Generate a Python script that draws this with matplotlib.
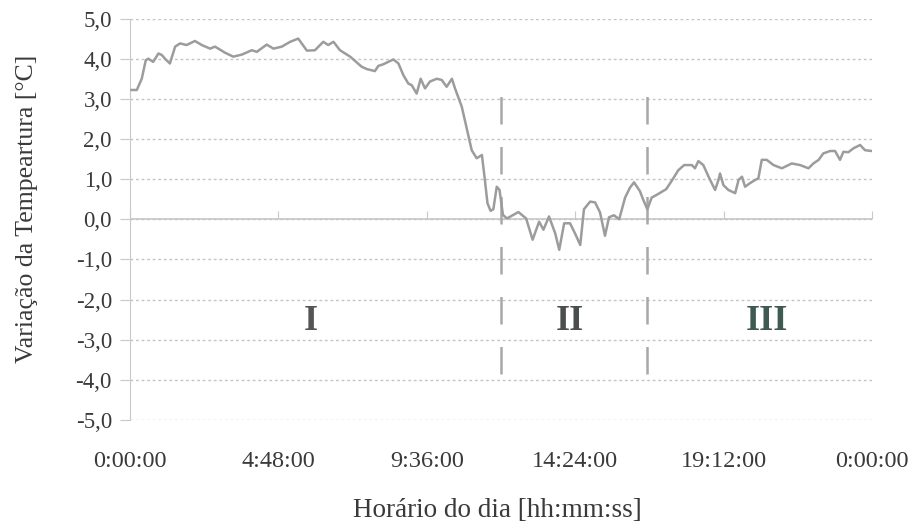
import matplotlib
matplotlib.use("Agg")
import matplotlib.pyplot as plt

plt.rcParams['font.family'] = ['Liberation Serif', 'DejaVu Serif']

# horas decorridas desde 0:00:00 e variação da temperatura (°C)
horas = [0.05, 0.22, 0.38, 0.51, 0.59, 0.75, 0.92, 1.03, 1.13, 1.29, 1.46, 1.62, 1.83,
         2.10, 2.32, 2.59, 2.75, 3.07, 3.34, 3.61, 3.94, 4.10, 4.42, 4.64, 4.91, 5.18,
         5.44, 5.72, 5.98, 6.25, 6.41, 6.58, 6.79, 7.12, 7.49, 7.66, 7.92, 8.03, 8.19,
         8.35, 8.52, 8.68, 8.84, 9.00, 9.11, 9.27, 9.40, 9.54, 9.70, 9.92, 10.08, 10.24,
         10.41, 10.51, 10.73, 10.89, 11.05, 11.21, 11.38, 11.47, 11.56, 11.66, 11.75,
         11.86, 11.95, 12.06, 12.19, 12.56, 12.81, 13.02, 13.23, 13.37, 13.55, 13.75,
         13.88, 14.04, 14.23, 14.39, 14.56, 14.68, 14.88, 15.04, 15.20, 15.36, 15.49,
         15.65, 15.82, 16.01, 16.17, 16.30, 16.49, 16.60, 16.73, 16.87, 17.06, 17.34,
         17.52, 17.73, 17.92, 18.17, 18.27, 18.38, 18.54, 18.71, 18.92, 19.03, 19.08,
         19.19, 19.35, 19.57, 19.68, 19.79, 19.89, 20.05, 20.22, 20.32, 20.43, 20.59,
         20.81, 21.08, 21.40, 21.67, 21.94, 22.10, 22.27, 22.42, 22.64, 22.80, 22.96,
         23.07, 23.23, 23.40, 23.61, 23.77, 23.99]
variacao = [3.22, 3.22, 3.50, 3.96, 4.00, 3.92, 4.13, 4.09, 4.00, 3.88, 4.30, 4.38, 4.34,
            4.44, 4.34, 4.25, 4.30, 4.15, 4.05, 4.10, 4.21, 4.17, 4.35, 4.25, 4.30, 4.42,
            4.50, 4.20, 4.21, 4.42, 4.34, 4.42, 4.21, 4.05, 3.80, 3.74, 3.69, 3.82, 3.86,
            3.92, 3.98, 3.88, 3.59, 3.38, 3.34, 3.13, 3.50, 3.26, 3.43, 3.50, 3.47, 3.30,
            3.50, 3.26, 2.80, 2.26, 1.72, 1.52, 1.60, 1.02, 0.40, 0.21, 0.25,
            0.81, 0.73, 0.11, 0.02, 0.18, 0.02, -0.51, -0.06, -0.26, 0.07, -0.35,
            -0.76, -0.10, -0.10, -0.35, -0.64, 0.25, 0.44, 0.42, 0.17, -0.41, 0.05,
            0.10, 0.00, 0.54, 0.79, 0.92, 0.70, 0.48, 0.25, 0.54, 0.62, 0.75,
            0.96, 1.22, 1.35, 1.35, 1.27, 1.45, 1.35, 1.06, 0.73, 0.98, 1.14,
            0.85, 0.73, 0.65, 0.98, 1.06, 0.81, 0.90, 0.98, 1.02, 1.48, 1.48,
            1.35, 1.27, 1.39, 1.35, 1.27, 1.39, 1.48, 1.64, 1.70, 1.70, 1.48,
            1.68, 1.67, 1.77, 1.85, 1.72, 1.70]

# limites entre os períodos (horas)
limites = [12.0, 16.72]
periodos = ['I', 'II', 'III']
pos_periodos = [5.85, 14.22, 20.6]

ticks_x = [0, 4.8, 9.6, 14.4, 19.2, 24]
rotulos_x = ['0:00:00', '4:48:00', '9:36:00', '14:24:00', '19:12:00', '0:00:00']
ticks_y = list(range(-5, 6))

fig = plt.figure(figsize=(9.2, 5.29), dpi=100)
ax = fig.add_axes([0.1413, 0.206, 0.8067, 0.759])

ax.plot(horas, variacao, color='#9c9c9c', lw=1.8, zorder=3)

for h in limites:
    ax.vlines(h, -3.85, 3.35, colors='#a8a8a8', lw=1.8, linestyles=(0, (11, 9)), zorder=2)

cores = ['#555555', '#4a4e4c', '#3f5a52']
for txt, h, c in zip(periodos, pos_periodos, cores):
    ax.text(h, -2.55, txt, ha='center', va='center', fontsize=26, fontweight='bold',
            color=c)

ax.set_xlim(0, 24)
ax.set_ylim(-5, 5)
ax.set_xticks(ticks_x)
ax.set_xticklabels(rotulos_x)
ax.set_yticks(ticks_y)
ax.set_yticklabels([f'{v},0' for v in ticks_y])

ax.grid(axis='y', color='#c4c4c4', lw=1.0, linestyle=(0, (2, 2)))
for s in ['top', 'right', 'bottom']:
    ax.spines[s].set_visible(False)
ax.spines['left'].set_color('#c8c8c8')
ax.tick_params(axis='y', length=7, color='#c8c8c8', labelsize=16.5,
               labelcolor='#3a3a3a', pad=6)
ax.tick_params(axis='x', length=0, labelsize=17.5, labelcolor='#3a3a3a', pad=22)

# eixo horizontal passando pelo zero
ax.axhline(0, color='#c8c8c8', lw=1.2, zorder=1)
eixo0 = ax.secondary_xaxis(0.5)
eixo0.set_xticks(ticks_x)
eixo0.set_xticklabels([])
for s in eixo0.spines.values():
    s.set_visible(False)
eixo0.tick_params(length=6, color='#c8c8c8')

ax.set_xlabel('Horário do dia [hh:mm:ss]', fontsize=19.5, color='#3a3a3a')
ax.set_ylabel('Variação da Tempeartura [°C]', fontsize=18.5, color='#3a3a3a')
ax.xaxis.set_label_coords(0.495, -0.195)
ax.yaxis.set_label_coords(-0.124, 0.527)

fig.savefig('out.png', dpi=100, facecolor='white')
